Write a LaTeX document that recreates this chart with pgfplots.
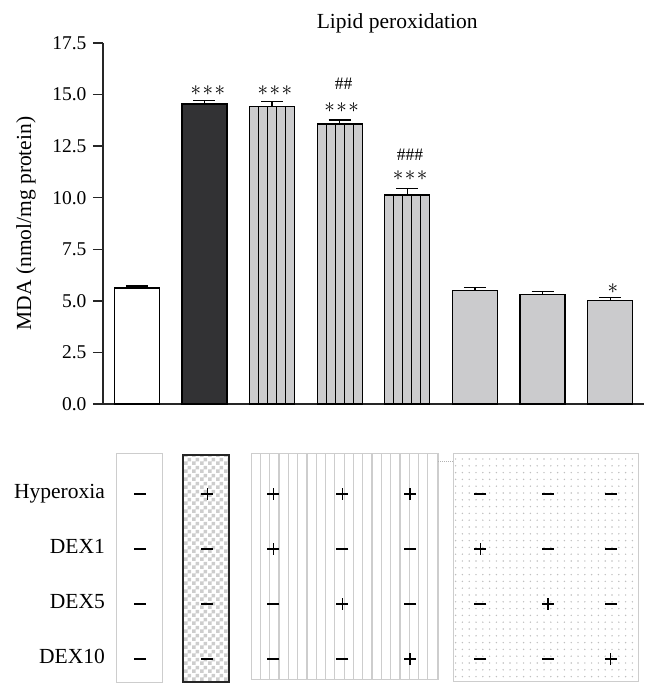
\documentclass[border=0pt]{standalone}
\usepackage{fontspec}
\setmainfont{Liberation Serif}
\usepackage{pgfplots}
\pgfplotsset{compat=1.18}
\usetikzlibrary{calc,patterns,patterns.meta}

\definecolor{bardark}{RGB}{50,50,52}
\definecolor{bargray}{RGB}{203,203,205}
\definecolor{boxgray}{RGB}{205,205,205}
\newcommand\fs{\fontsize{21.5}{24}\selectfont}
\newcommand\ft{\fontsize{19.5}{22}\selectfont}
\newcommand\fh{\fontsize{17.5}{20}\selectfont}
\newcommand\st{\scalebox{2.1}{$\ast$}}
\newcommand\stars{\st\kern1.5pt\st\kern1.5pt\st}

\tikzdeclarepattern{
  name=finechecker, type=uncolored,
  bottom left={(0pt,0pt)}, top right={(8pt,8pt)}, tile size={(8pt,8pt)},
  code={\pgfpathrectangle{\pgfpointorigin}{\pgfpoint{4pt}{4pt}}
        \pgfpathrectangle{\pgfpoint{4pt}{4pt}}{\pgfpoint{4pt}{4pt}}
        \pgfusepath{fill}}}

\pgfplotsset{
  mybar/.style={ybar, bar width=0.666, bar shift=0pt, draw=black, line width=1.3pt,
    error bars/y dir=plus, error bars/y explicit,
    error bars/error mark options={rotate=90, mark size=11pt, line width=1.3pt, black, path picture={}},
    error bars/error bar style={line width=1.3pt, black, path picture={}}},
  hatch/.style={fill=bargray, path picture={
    \foreach \i in {1,2,3,4}{
      \draw[line width=1.1pt, black, path picture={}]
        ($(path picture bounding box.south west)!\i/5!(path picture bounding box.south east)$) --
        ($(path picture bounding box.north west)!\i/5!(path picture bounding box.north east)$);
    }}},
}

\begin{document}
\begin{tikzpicture}
\begin{axis}[
  at={(0pt,0pt)}, anchor=south west,
  scale only axis, width=541pt, height=361pt,
  xmin=0.5, xmax=8.5, ymin=0, ymax=17.5,
  axis x line*=bottom, axis y line*=left,
  axis line style={line width=1.3pt, black!85},
  xtick=\empty,
  ytick={0,2.5,...,17.5},
  yticklabel style={/pgf/number format/.cd, fixed, fixed zerofill, precision=1},
  /pgf/number format/assume math mode=true,
  tick align=outside, major tick length=10pt,
  tick style={line width=1.3pt, black!85},
  ticklabel style={font=\ft, xshift=-3pt},
  ylabel={MDA (nmol/mg protein)},
  ylabel style={font=\fs, at={(axis description cs:-0.1423,0.5)}, anchor=center},
  clip=false,
]
% control
\addplot[mybar, fill=white] coordinates {(1,5.62) +- (0,0.10)};
% hyperoxia
\addplot[mybar, fill=bardark] coordinates {(2,14.54) +- (0,0.16)};
% hyperoxia + DEX
\addplot[mybar, hatch] coordinates {(3,14.41) +- (0,0.26)};
\addplot[mybar, hatch] coordinates {(4,13.57) +- (0,0.20)};
\addplot[mybar, hatch] coordinates {(5,10.13) +- (0,0.32)};
% DEX only
\addplot[mybar, fill=bargray] coordinates {(6,5.49) +- (0,0.15) (7,5.32) +- (0,0.14) (8,5.01) +- (0,0.14)};

\node[font=\fs] at (axis cs:4.85,18.47) {Lipid peroxidation};
\begin{scope}[every node/.style={inner sep=0pt}]
\node at (axis cs:2.05,15.2) {\stars};
\node at (axis cs:3.04,15.2) {\stars};
\node[font=\fh] at (axis cs:4.06,15.5) {\#\#};
\node at (axis cs:4.03,14.38) {\stars};
\node[font=\fh] at (axis cs:5.04,12.07) {\#\#\#};
\node at (axis cs:5.04,11.07) {\stars};
\node at (axis cs:8.04,5.57) {\st};
\end{scope}
\end{axis}

\begin{axis}[
  at={(0pt,-282.5pt)}, anchor=south west,
  scale only axis, width=541pt, height=236.5pt,
  xmin=0.5, xmax=8.5, ymin=0.5, ymax=4.8,
  hide axis, clip=false,
]
\addplot[draw=boxgray, line width=1pt, fill=white]
  coordinates {(0.707,0.564)(1.387,0.564)(1.387,4.745)(0.707,4.745)} -- cycle;
\addplot[draw=black!85, line width=1.3pt, pattern=finechecker, pattern color=boxgray]
  coordinates {(1.683,0.58)(2.363,0.58)(2.363,4.71)(1.683,4.71)} -- cycle;
\addplot[draw=boxgray, line width=1pt, pattern={Lines[angle=90,distance=9.3pt,line width=1.2pt]}, pattern color=boxgray]
  coordinates {(2.689,0.62)(5.454,0.62)(5.454,4.745)(2.689,4.745)} -- cycle;
\addplot[draw=boxgray, line width=1pt, pattern={Dots[distance=6.8pt,radius=0.8pt]}, pattern color=gray!50]
  coordinates {(5.676,0.60)(8.412,0.60)(8.412,4.745)(5.676,4.745)} -- cycle;
\addplot[densely dotted, gray!60, line width=1pt] coordinates {(5.454,4.6)(5.676,4.6)};

% plus signs
\addplot[only marks, mark=+, mark size=6pt, line width=1.1pt, black] coordinates {
  (2.04,4) (3.02,4) (3.02,3) (4.04,4) (4.04,2) (5.04,4) (5.04,1)
  (6.08,3) (7.08,2) (8.01,1)};
% minus signs
\addplot[only marks, mark=-, mark size=6pt, line width=1.1pt, black] coordinates {
  (1.04,4) (1.04,3) (1.04,2) (1.04,1)
  (2.04,3) (2.04,2) (2.04,1)
  (3.02,2) (3.02,1)
  (4.04,3) (4.04,1)
  (5.04,3) (5.04,2)
  (6.08,4) (6.08,2) (6.08,1)
  (7.08,4) (7.08,3) (7.08,1)
  (8.01,4) (8.01,3) (8.01,2)};

\node[font=\fs, anchor=base east, yshift=-4.5pt] at (axis cs:0.58,4) {Hyperoxia};
\node[font=\fs, anchor=base east, yshift=-4.5pt] at (axis cs:0.58,3) {DEX1};
\node[font=\fs, anchor=base east, yshift=-4.5pt] at (axis cs:0.58,2) {DEX5};
\node[font=\fs, anchor=base east, yshift=-4.5pt] at (axis cs:0.58,1) {DEX10};
\end{axis}

\pgfresetboundingbox
\useasboundingbox (-103pt,-293pt) rectangle (555pt,404pt);
\end{tikzpicture}
\end{document}
